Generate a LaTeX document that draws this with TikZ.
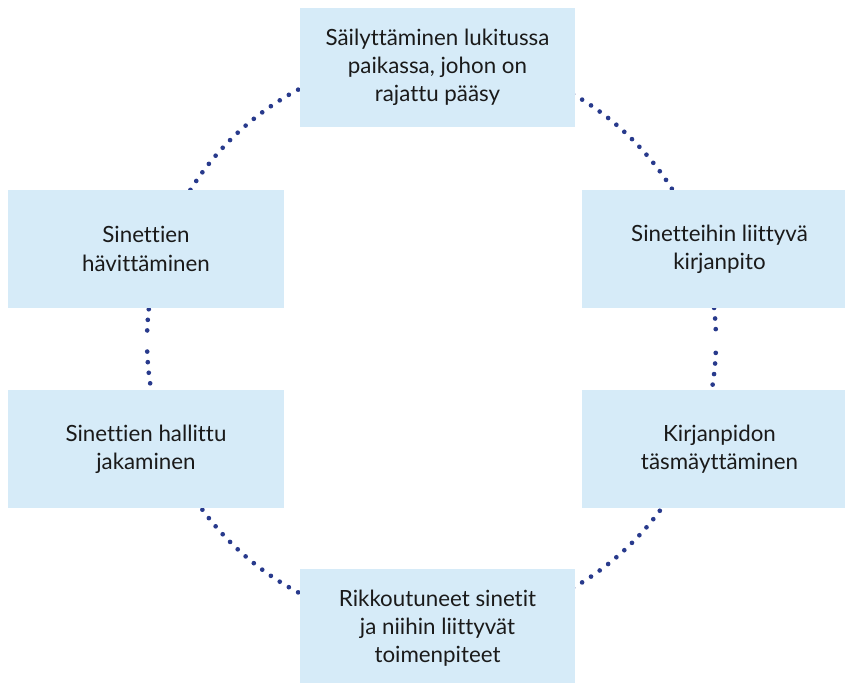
\documentclass[tikz,border=0pt]{standalone}
\usepackage{fontspec}
\setmainfont{Lato}[Ligatures=NoCommon]
\definecolor{boxfill}{RGB}{214,235,248}
\definecolor{dotc}{RGB}{40,58,140}
\definecolor{txt}{RGB}{26,26,26}
\begin{document}
\begin{tikzpicture}[x=0.75pt,y=-0.75pt,
  box/.style={fill=boxfill, draw=none, minimum width=206.25pt, minimum height=88.5pt,
    inner sep=0pt, align=center, text=txt, font=\fontsize{16.75}{21.2}\selectfont},
  dotline/.style={draw=dotc, line width=3.5pt, line cap=round, dash pattern=on 0pt off 7.97pt}]
\useasboundingbox (0,0) rectangle (845,682);
\clip (0,0) rectangle (845,682);
\coordinate (c) at (431.5,341);
\draw[dotline] (c) ++(177.87:284.5) arc[start angle=177.87, end angle=2.13, radius=284.5];
\draw[dotline] (c) ++(182.13:284.5) arc[start angle=182.13, end angle=357.87, radius=284.5];
\node[box, minimum height=89.25pt] (top) at (437.5,67.5) {Säilyttäminen lukitussa\\paikassa, johon on\\rajattu pääsy};
\node[box] (rt) at (719.5,249) {Sinetteihin liittyvä\\kirjanpito};
\node[box] (rb) at (719.5,449) {Kirjanpidon\\täsmäyttäminen};
\node[box] (bot) at (437.5,628) {Rikkoutuneet sinetit\\ja niihin liittyvät\\toimenpiteet};
\node[box, minimum width=207pt] (lt) at (146,249) {Sinettien\\hävittäminen};
\node[box, minimum width=207pt] (lb) at (146,449) {Sinettien hallittu\\jakaminen};
\end{tikzpicture}
\end{document}
